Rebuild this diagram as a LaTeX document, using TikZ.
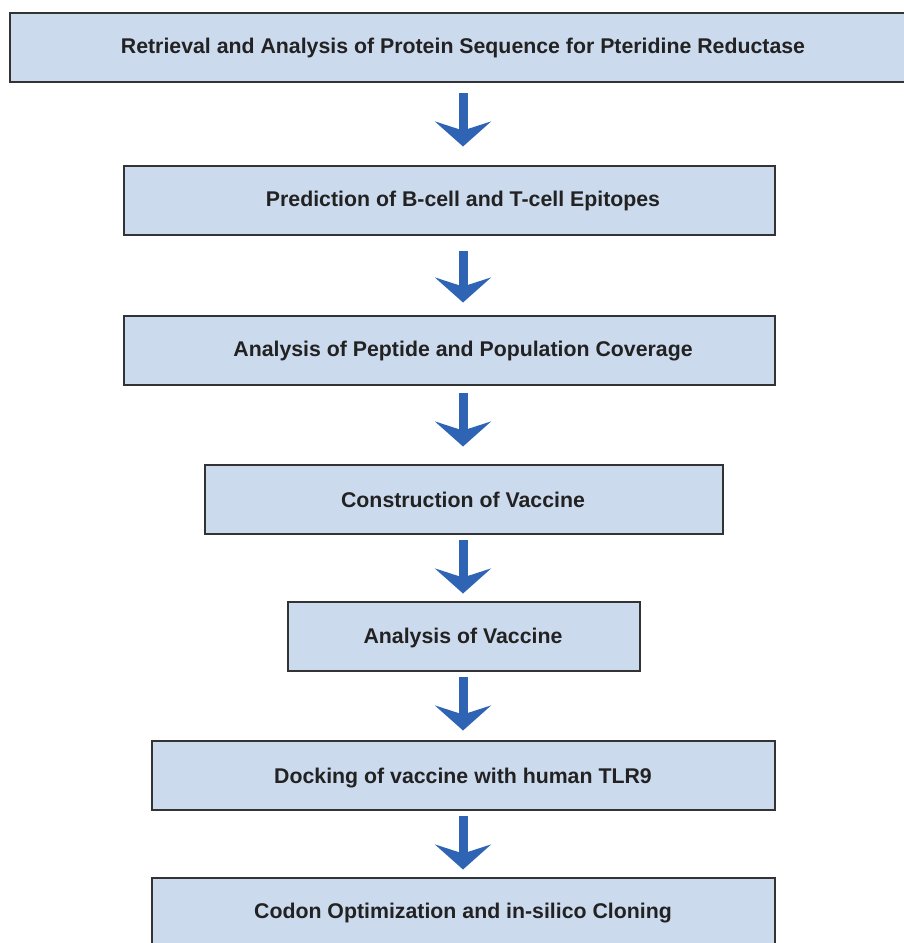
\documentclass[tikz,border=0pt]{standalone}
\usepackage{fontspec}
\setmainfont{Liberation Sans}
\usetikzlibrary{arrows.meta,calc}
\definecolor{boxfill}{HTML}{CCDAEE}
\definecolor{boxline}{HTML}{333333}
\definecolor{arrowblue}{HTML}{2F64B4}
\definecolor{txt}{HTML}{222222}
\begin{document}
\begin{tikzpicture}[x=1pt,y=-1pt,
  boxnode/.style={draw=boxline, line width=2pt, fill=boxfill, inner sep=0pt, minimum height=69pt},
  steptext/.style={font=\bfseries\fontsize{21.3}{24}\selectfont, text=txt, inner sep=0pt, anchor=base},
  flowarrow/.style={draw=arrowblue, line width=9pt, -{Stealth[length=25pt,width=56pt,inset=9pt]}}]
\useasboundingbox (0,0) rectangle (904,943);
\clip (0,0) rectangle (904,943);
% boxes
\node[boxnode, minimum width=906pt] (b1) at (463,47.5) {};
\node[boxnode, minimum width=651pt] (b2) at (449.5,200) {};
\node[boxnode, minimum width=651pt] (b3) at (449.5,350) {};
\node[boxnode, minimum width=518pt] (b4) at (464,499) {};
\node[boxnode, minimum width=352pt] (b5) at (464,636) {};
\node[boxnode, minimum width=623pt] (b6) at (463.5,775) {};
\node[boxnode, minimum width=623pt] (b7) at (463.5,912) {};
% texts
\node[steptext] (t1) at (463,53.5) {Retrieval and Analysis of Protein Sequence for Pteridine Reductase};
\node[steptext] (t2) at (463,206.5) {Prediction of B-cell and T-cell Epitopes};
\node[steptext] (t3) at (463,356.5) {Analysis of Peptide and Population Coverage};
\node[steptext] (t4) at (463,507.5) {Construction of Vaccine};
\node[steptext] (t5) at (463,643.5) {Analysis of Vaccine};
\node[steptext] (t6) at (463,783.5) {Docking of vaccine with human TLR9};
\node[steptext] (t7) at (463,918.5) {Codon Optimization and in-silico Cloning};
% arrows
\draw[flowarrow] ($(t1 |- b1.south)+(0,10)$) -- ($(t1 |- b2.north)+(0,-18)$);
\draw[flowarrow] ($(t2 |- b2.south)+(0,15)$) -- ($(t2 |- b3.north)+(0,-12)$);
\draw[flowarrow] ($(t3 |- b3.south)+(0,7)$) -- ($(t3 |- b4.north)+(0,-17)$);
\draw[flowarrow] ($(t4 |- b4.south)+(0,5)$) -- ($(t4 |- b5.north)+(0,-7)$);
\draw[flowarrow] ($(t5 |- b5.south)+(0,5)$) -- ($(t5 |- b6.north)+(0,-9)$);
\draw[flowarrow] ($(t6 |- b6.south)+(0,5)$) -- ($(t6 |- b7.north)+(0,-7)$);
\end{tikzpicture}
\end{document}
